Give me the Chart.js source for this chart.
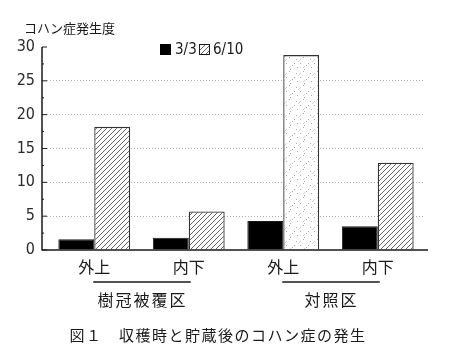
<!DOCTYPE html>
<html><head><meta charset="utf-8">
<script src="https://cdn.jsdelivr.net/npm/chart.js@4/dist/chart.umd.min.js"></script>
<style>html,body{margin:0;padding:0;background:#fff}canvas{display:block}</style>
</head><body>
<canvas id="c" width="452" height="363"></canvas>
<script>
const categories = ['外上', '内下', '外上', '内下'];
const groups = ['樹冠被覆区', '対照区'];
const seriesNames = ['3/3', '6/10'];
const values33 = [1.6, 1.8, 4.3, 3.5];
const values610 = [18.2, 5.7, 28.8, 12.9];
const yTicks = [0, 5, 10, 15, 20, 25, 30];
const yTitle = 'コハン症発生度';
const caption = '図１　収穫時と貯蔵後のコハン症の発生';

const JP = '"Noto Sans CJK JP", "Noto Sans", sans-serif';
const NUM = '"Liberation Sans Narrow", "DejaVu Sans Condensed", "Liberation Sans", sans-serif';
const INK = '#1a1a1a';

function hatch() {
  const s = 5, c = document.createElement('canvas');
  c.width = c.height = s;
  const g = c.getContext('2d');
  g.fillStyle = '#fff'; g.fillRect(0, 0, s, s);
  g.strokeStyle = '#555'; g.lineWidth = 0.9;
  g.beginPath();
  g.moveTo(0, s); g.lineTo(s, 0);
  g.moveTo(-1, 1); g.lineTo(1, -1);
  g.moveTo(s - 1, s + 1); g.lineTo(s + 1, s - 1);
  g.stroke();
  return g.createPattern(c, 'repeat');
}
function stipple() {
  const s = 14, c = document.createElement('canvas');
  c.width = c.height = s;
  const g = c.getContext('2d');
  g.fillStyle = '#fff'; g.fillRect(0, 0, s, s);
  g.fillStyle = '#aaa';
  [[2,3],[9,1],[6,7],[12,9],[3,11],[10,13],[0,7]].forEach(p => g.fillRect(p[0], p[1], 1, 1));
  g.strokeStyle = '#c4c4c4'; g.lineWidth = 0.8;
  g.beginPath(); g.moveTo(4, 6); g.lineTo(7, 3); g.moveTo(9, 12); g.lineTo(11, 10); g.stroke();
  return g.createPattern(c, 'repeat');
}
const H = hatch(), S = stipple();
const pat610 = [H, H, S, H];

const decor = {
  id: 'decor',
  afterDraw(chart) {
    const ctx = chart.ctx, x = chart.scales.x, y = chart.scales.y;
    const y0 = y.getPixelForValue(0), yTop = y.getPixelForValue(30);
    const ax = x.left - 5;
    ctx.save();
    ctx.strokeStyle = INK; ctx.lineWidth = 1.5;
    ctx.beginPath();
    ctx.moveTo(ax, yTop); ctx.lineTo(ax, y0 + 0.5);
    ctx.moveTo(ax, y0); ctx.lineTo(x.right + 3, y0);
    ctx.stroke();
    ctx.lineWidth = 1;
    ctx.beginPath();
    yTicks.forEach(v => { const p = y.getPixelForValue(v); ctx.moveTo(ax, p); ctx.lineTo(ax + 5, p); });
    for (let v = 2.5; v < 30; v += 5) { const p = y.getPixelForValue(v); ctx.moveTo(ax, p); ctx.lineTo(ax + 2, p); }
    ctx.stroke();

    // y title
    ctx.fillStyle = INK;
    ctx.font = '13px ' + JP;
    ctx.textAlign = 'left'; ctx.textBaseline = 'middle';
    ctx.fillText(yTitle, 24, 28);

    // legend
    ctx.fillStyle = '#000';
    ctx.fillRect(160, 44, 11, 11);
    ctx.fillStyle = pat610[0];
    ctx.fillRect(199, 44, 11, 11);
    ctx.strokeStyle = INK; ctx.lineWidth = 1;
    ctx.strokeRect(199.5, 44.5, 10, 10);
    ctx.fillStyle = INK;
    ctx.font = '15px ' + NUM;
    ctx.fillText(seriesNames[0], 175, 50);
    ctx.fillText(seriesNames[1], 213, 50);

    // group underline + labels
    ctx.lineWidth = 1.3;
    ctx.font = '16px ' + JP;
    ctx.textAlign = 'center';
    if ('letterSpacing' in ctx) ctx.letterSpacing = '2px';
    groups.forEach((gname, i) => {
      const a = x.getPixelForValue(i * 2), b = x.getPixelForValue(i * 2 + 1);
      ctx.beginPath(); ctx.moveTo(a - 1, 282); ctx.lineTo(b + 2, 282); ctx.stroke();
      ctx.fillText(gname, (a + b) / 2 + 1, 300);
    });
    ctx.font = '15px ' + JP;
    if ('letterSpacing' in ctx) ctx.letterSpacing = '1.5px';
    ctx.fillText(caption, 218, 335);
    ctx.restore();
  }
};

new Chart(document.getElementById('c'), {
  type: 'bar',
  data: {
    labels: categories,
    datasets: [
      { label: seriesNames[0], data: values33, backgroundColor: '#000', borderColor: INK, borderWidth: 1 },
      { label: seriesNames[1], data: values610, backgroundColor: pat610, borderColor: '#333', borderWidth: 1.3 }
    ]
  },
  options: {
    responsive: false,
    animation: false,
    events: [],
    categoryPercentage: 0.76,
    barPercentage: 1.0,
    layout: { padding: { top: 47, right: 27, bottom: 0, left: 0 } },
    plugins: { legend: { display: false }, title: { display: false }, tooltip: { enabled: false } },
    scales: {
      x: {
        afterFit(s) { s.height = 113; },
        grid: { display: false, drawTicks: false },
        border: { display: false },
        ticks: { color: INK, font: { family: JP, size: 16 }, padding: 7 }
      },
      y: {
        min: 0, max: 30,
        afterFit(s) { s.width = 47; },
        afterBuildTicks(s) { s.ticks = yTicks.map(v => ({ value: v })); },
        border: { display: false, dash: [1, 2] },
        grid: {
          drawTicks: false,
          color: c => (c.tick && (c.tick.value === 0 || c.tick.value === 30)) ? 'rgba(0,0,0,0)' : '#b0b0b0',
          lineWidth: 1
        },
        ticks: { color: '#2a2a2a', font: { family: NUM, size: 16 }, padding: 12 }
      }
    }
  },
  plugins: [decor]
});
</script>
</body></html>
